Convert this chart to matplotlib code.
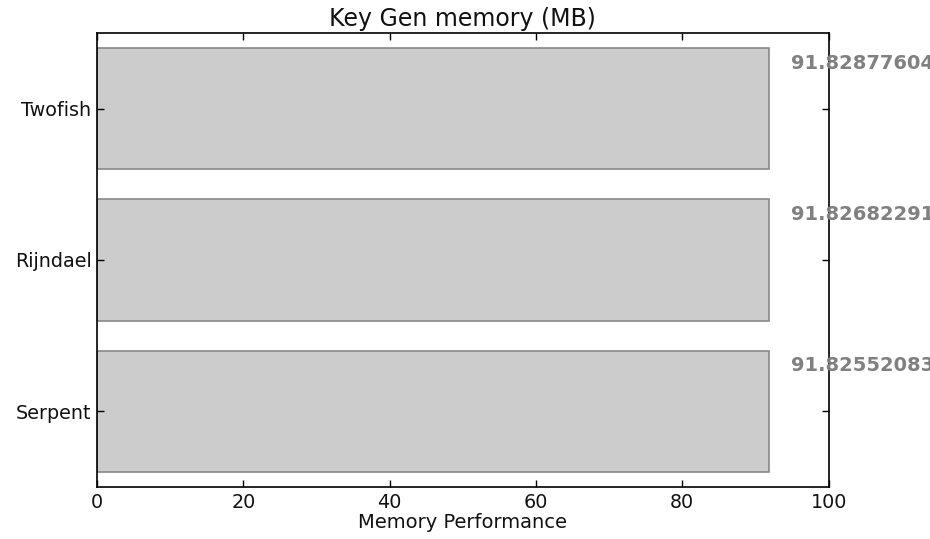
import matplotlib
matplotlib.use("Agg")
import matplotlib.pyplot as plt

categories = ["Serpent", "Rijndael", "Twofish"]
values = [91.825520833333, 91.826822916666, 91.828776041666]
xticks = [0, 20, 40, 60, 80, 100]

fig = plt.figure(figsize=(9.3, 5.39), dpi=100, facecolor="white")
ax = fig.add_axes([0.1043, 0.0965, 0.891 - 0.1043, 0.9388 - 0.0965])

pos = list(range(len(categories)))
ax.barh(pos, values, height=0.8, align="center", color="#cccccc",
        edgecolor="#888888", linewidth=1.2)
for p, v in zip(pos, values):
    ax.text(v + 3, p + 0.3, repr(v), color="#808080", fontsize=14,
            fontweight="bold", va="center", ha="left", clip_on=False)

ax.set_xlim(0, 100)
ax.set_ylim(-0.5, 2.5)
ax.set_xticks(xticks)
ax.set_yticks(pos)
ax.set_yticklabels(categories)
ax.tick_params(direction="in", top=True, right=True, length=5, width=1,
               labelsize=13.8, pad=4, labelcolor="#111111")
for s in ax.spines.values():
    s.set_linewidth(1.2)
ax.set_xlabel("Memory Performance", fontsize=14, labelpad=1, color="#111111")
ax.set_title("Key Gen memory (MB)", fontsize=17, pad=5, color="#111111")

fig.savefig("out.png", dpi=100, facecolor="white")
